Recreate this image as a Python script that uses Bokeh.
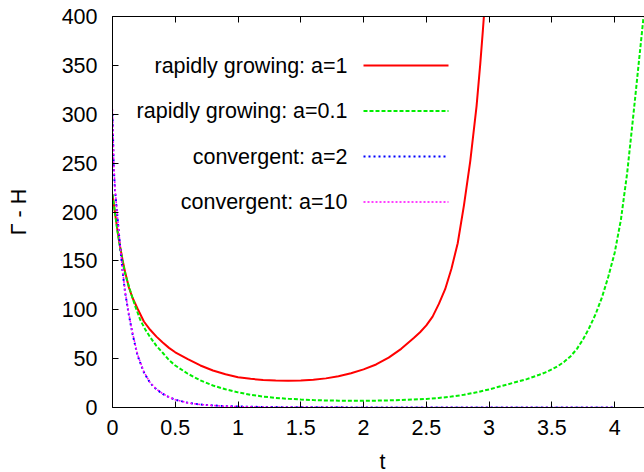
from bokeh.plotting import figure
from bokeh.models import Range1d, LinearAxis, FixedTicker, Label, Arrow, CustomJSTickFormatter
from bokeh.embed import file_html
from bokeh.resources import INLINE

# ---- data ----
t_red = [0, 0.02, 0.04, 0.06, 0.08, 0.1, 0.13, 0.16, 0.2, 0.25, 0.3, 0.35, 0.4, 0.45, 0.5,
         0.6, 0.7, 0.8, 0.9, 1.0, 1.1, 1.2, 1.3, 1.4, 1.5, 1.6, 1.7, 1.8, 1.9, 2.0, 2.1,
         2.2, 2.3, 2.4, 2.45, 2.5, 2.55, 2.6, 2.65, 2.7, 2.75, 2.8, 2.85, 2.9, 2.93,
         2.95, 2.97]
v_red = [218, 199, 181, 165, 151, 139, 123, 112, 101, 88, 79.5, 72.5, 66.5, 61, 56.5,
         49.5, 43, 37.8, 34, 31, 29.3, 28.2, 27.5, 27.3, 27.6, 28.4, 29.8, 32, 35, 39, 44,
         51, 60, 71, 77, 84, 93, 106, 121, 142, 168, 207, 252, 308, 352, 385, 420]

t_green = [0, 0.02, 0.04, 0.06, 0.08, 0.1, 0.14, 0.18, 0.22, 0.26, 0.3, 0.35, 0.4, 0.45,
           0.5, 0.6, 0.7, 0.8, 0.9, 1.0, 1.1, 1.2, 1.3, 1.4, 1.5, 1.6, 1.7, 1.8, 1.9, 2.0,
           2.1, 2.2, 2.3, 2.4, 2.5, 2.6, 2.7, 2.8, 2.9, 3.0, 3.1, 3.2, 3.3, 3.4, 3.45, 3.5,
           3.55, 3.6, 3.65, 3.7, 3.75, 3.8, 3.85, 3.9, 3.95, 4.0, 4.05, 4.1, 4.15, 4.2,
           4.23, 4.26]
v_green = [218, 199, 180, 164, 150, 137, 120, 104, 90, 80, 72, 63, 56, 48.5,
           43, 34.5, 27.8, 22.5, 18.6, 15.5, 13, 11.2, 9.8, 8.9, 8.2, 7.6, 7.2, 7.0, 6.9, 6.9,
           7.0, 7.3, 7.7, 8.2, 8.8, 9.8, 11.2, 13, 15.5, 18.5, 22, 25.5, 29, 33.5, 36, 39,
           42.5, 47, 52.5, 60, 70, 82, 96, 113, 134, 158, 192, 240, 300, 362,
           399, 436]

t_conv = [0, 0.01, 0.02, 0.04, 0.06, 0.08, 0.1, 0.13, 0.16, 0.2, 0.25, 0.3, 0.35, 0.4,
          0.45, 0.5, 0.6, 0.7, 0.8, 0.9, 1.0, 1.2, 1.5, 2.0, 2.5, 3.0, 3.5, 4.0]
v_blue = [300, 245, 222, 194, 166, 140, 118, 95, 75, 53, 36, 25, 18.5, 14,
          10.5, 8, 4.8, 3.1, 2.1, 1.4, 1.0, 0.5, 0.2, 0.1, 0, 0, 0, 0]
v_magenta = [305, 250, 225, 195, 167, 141, 119, 96, 76, 54, 36.5, 25.5, 18.8, 14.2,
             10.6, 8, 4.7, 3.0, 2.0, 1.3, 0.9, 0.4, 0.2, 0.1, 0, 0, 0, 0]

series_labels = ["rapidly growing: a=1", "rapidly growing: a=0.1",
                 "convergent: a=2", "convergent: a=10"]

x_ticks = [0, 0.5, 1, 1.5, 2, 2.5, 3, 3.5, 4]
x_tick_labels = ["0", "0.5", "1", "1.5", "2", "2.5", "3", "3.5", "4"]
y_ticks = [0, 50, 100, 150, 200, 250, 300, 350, 400]
y_tick_labels = ["0", "50", "100", "150", "200", "250", "300", "350", "400"]
x_title = "t"
y_title = "Γ - H"

FONT = "Liberation Sans"
FS = "21.5px"

p = figure(width=644, height=472, output_backend="svg", toolbar_location=None,
           x_range=Range1d(0, 4.238), y_range=Range1d(0, 400),
           min_border_left=112, min_border_right=0, min_border_top=16,
           min_border_bottom=65)
p.grid.visible = False
p.outline_line_color = None
p.background_fill_color = "white"
p.border_fill_color = "white"

def style_axis(ax):
    ax.major_tick_in = 6
    ax.major_tick_out = 0
    ax.minor_tick_in = 0
    ax.minor_tick_out = 0
    ax.axis_line_color = "black"
    ax.axis_line_width = 1
    ax.major_tick_line_color = "black"
    ax.major_label_text_font = FONT
    ax.major_label_text_font_size = FS
    ax.major_label_text_color = "black"
    ax.axis_label_text_font = FONT
    ax.axis_label_text_font_size = FS
    ax.axis_label_text_font_style = "normal"
    ax.axis_label_text_color = "black"

xa = p.xaxis[0]
style_axis(xa)
xa.ticker = FixedTicker(ticks=x_ticks)
xa.major_label_overrides = dict(zip(x_ticks, x_tick_labels))
xa.major_label_standoff = 12

ya = p.yaxis[0]
style_axis(ya)
ya.ticker = FixedTicker(ticks=y_ticks)
ya.major_label_overrides = dict(zip(y_ticks, y_tick_labels))
ya.major_label_standoff = 15
ya.axis_label = y_title
ya.axis_label_standoff = 28

top = LinearAxis(ticker=FixedTicker(ticks=x_ticks),
                 formatter=CustomJSTickFormatter(code="return ''"))
style_axis(top)
top.major_label_text_font_size = "0px"
top.major_label_standoff = 0
p.add_layout(top, "above")

# x-axis title below the tick labels, placed in the bottom panel
p.add_layout(Label(x=270, y=-12, x_units="screen", y_units="screen", text=x_title,
                   text_align="center", text_baseline="bottom",
                   text_font=FONT, text_font_size=FS, text_color="black"), "below")

styles = [
    dict(color="#ff0000", dash="solid", width=2),
    dict(color="#00ee00", dash="4 2", width=2),
    dict(color="#0000ff", dash="2 3", width=2),
    dict(color="#ff00ff", dash="2 2", width=1.5),
]
data = [(t_red, v_red), (t_green, v_green), (t_conv, v_blue), (t_conv, v_magenta)]

for (tx, vy), st in zip(data, styles):
    p.line(tx, vy, line_color=st["color"], line_width=st["width"], line_dash=st["dash"])

# gnuplot-style key: right-aligned text, sample line to its right
row_y = [342, 296.5, 251, 205.5]
for lab, st, yy in zip(series_labels, styles, row_y):
    p.add_layout(Label(x=235, y=yy, x_units="screen", y_units="screen", text=lab,
                       text_align="right", text_baseline="middle",
                       text_font=FONT, text_font_size=FS, text_color="black"))
    p.add_layout(Arrow(end=None, x_start=251, y_start=yy, x_end=336, y_end=yy,
                       start_units="screen", end_units="screen",
                       line_color=st["color"], line_width=st["width"],
                       line_dash=st["dash"]))

open("out.html", "w").write(file_html(p, INLINE))
